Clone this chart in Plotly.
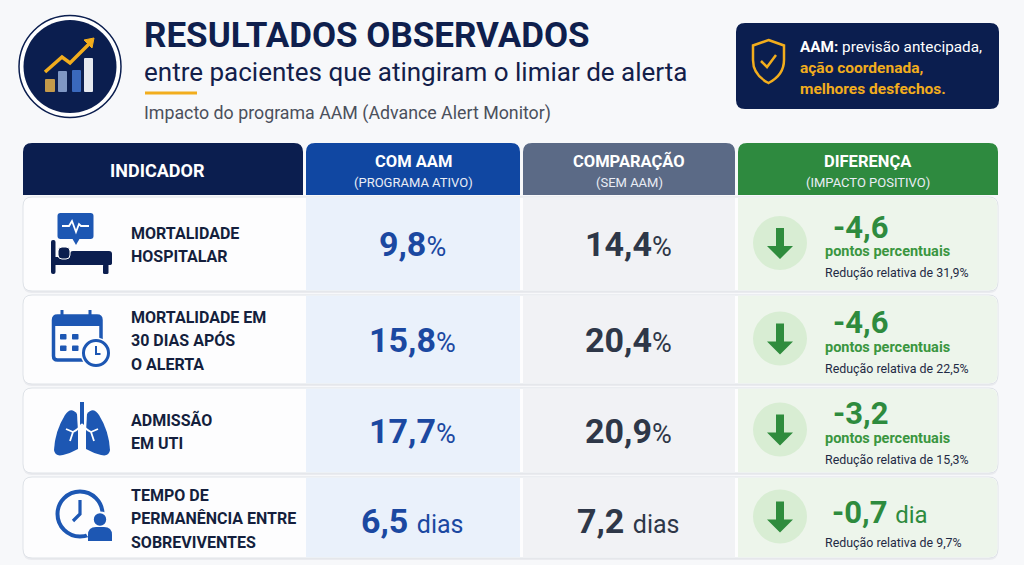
import plotly.graph_objects as go

# ---------------- data ----------------
indicadores = [
    ["MORTALIDADE", "HOSPITALAR"],
    ["MORTALIDADE EM", "30 DIAS APÓS", "O ALERTA"],
    ["ADMISSÃO", "EM UTI"],
    ["TEMPO DE", "PERMANÊNCIA ENTRE", "SOBREVIVENTES"],
]
com_aam = [9.8, 15.8, 17.7, 6.5]
sem_aam = [14.4, 20.4, 20.9, 7.2]
unidades = ["%", "%", "%", "dias"]
diferenca = [-4.6, -4.6, -3.2, -0.7]
dif_unidade = ["pontos percentuais", "pontos percentuais", "pontos percentuais", "dia"]
reducao_relativa = [31.9, 22.5, 15.3, 9.7]

cabecalhos = [("INDICADOR", ""), ("COM AAM", "(PROGRAMA ATIVO)"),
              ("COMPARAÇÃO", "(SEM AAM)"), ("DIFERENÇA", "(IMPACTO POSITIVO)")]
titulo = "RESULTADOS OBSERVADOS"
subtitulo = "entre pacientes que atingiram o limiar de alerta"
fonte_txt = "Impacto do programa AAM (Advance Alert Monitor)"

# ---------------- style ----------------
FONT = "Roboto"
NAVY = "#0b1e4f"
BLUE_H = "#1047a2"
SLATE = "#5b6a86"
GREEN_H = "#2e8a3f"
VAL_BLUE = "#1b48a1"
VAL_DARK = "#2e3748"
GREEN_T = "#2e8b3e"
ICON = "#1d57b3"
TXT = "#141f3d"
GOLD = "#f2ad1d"
BG = "#f7f8fa"


def fmt(v):
    return f"{v:.1f}".replace(".", ",")


def rr(x0, y0, x1, y1, r, tl=True, tr=True, br=True, bl=True):
    p = f"M {x0 + (r if tl else 0)} {y0} L {x1 - (r if tr else 0)} {y0} "
    if tr:
        p += f"Q {x1} {y0} {x1} {y0 + r} "
    p += f"L {x1} {y1 - (r if br else 0)} "
    if br:
        p += f"Q {x1} {y1} {x1 - r} {y1} "
    p += f"L {x0 + (r if bl else 0)} {y1} "
    if bl:
        p += f"Q {x0} {y1} {x0} {y1 - r} "
    p += f"L {x0} {y0 + (r if tl else 0)} "
    if tl:
        p += f"Q {x0} {y0} {x0 + r} {y0} "
    return p + "Z"


shapes = []
ann = []


def path(p, fill=None, line=None, lw=0):
    shapes.append(dict(type="path", path=p, xref="x", yref="y",
                       fillcolor=fill if fill else "rgba(0,0,0,0)",
                       line=dict(color=line if line else "rgba(0,0,0,0)", width=lw)))


def circ(cx, cy, r, fill=None, line=None, lw=0):
    shapes.append(dict(type="circle", xref="x", yref="y", x0=cx - r, x1=cx + r, y0=cy - r, y1=cy + r,
                       fillcolor=fill if fill else "rgba(0,0,0,0)",
                       line=dict(color=line if line else "rgba(0,0,0,0)", width=lw)))


def text(x, y, t, size, color, xa="left", weight="normal"):
    ann.append(dict(x=x, y=y, xref="x", yref="y", text=t, showarrow=False, xanchor=xa, yanchor="middle",
                    font=dict(family=FONT, size=size, color=color, weight=weight)))


# ---------------- title icon ----------------
circ(70, 66.5, 51, fill="white", line=NAVY, lw=1.5)
circ(70, 66.5, 46.5, fill=NAVY)
path(rr(45, 79, 55, 92, 1), fill="#c49a4a")
path(rr(58, 71, 67, 92, 1), fill="#7f97c4")
path(rr(72, 70, 81, 92, 1), fill="#3a69bd")
path(rr(84, 58, 93, 92, 1), fill="#e6e9ef")
path("M 45 72 L 62 57 L 70 63 L 89 44", line=GOLD, lw=3.5)
path("M 84 40 L 94 38 L 92 48 Z", fill=GOLD, line=GOLD, lw=1)

# ---------------- titles ----------------
text(142, 35, titulo, 35, "#0f1f4d", weight="bold")
text(142, 72, subtitulo, 26, "#13204a")
path("M 145 93 L 197 93", line=GOLD, lw=3)
text(142, 113, fonte_txt, 17.8, "#4b505c")

# ---------------- callout ----------------
path(rr(736, 23, 999, 109, 9), fill=NAVY)
path("M 768.5 40 L 784 45.5 L 784 60 Q 784 75 768.5 83 Q 753 75 753 60 L 753 45.5 Z", line=GOLD, lw=2.5)
path("M 761 61 L 767 67 L 776 55", line=GOLD, lw=2.5)
text(798, 47, "<b>AAM:</b> previsão antecipada,", 15.3, "white")
text(798, 68, "ação coordenada,", 15.5, GOLD, weight="bold")
text(798, 89, "melhores desfechos.", 15.5, GOLD, weight="bold")

# ---------------- header ----------------
cols = [(23, 303), (306, 520), (523, 735), (738, 998)]
hcolors = [NAVY, BLUE_H, SLATE, GREEN_H]
for (x0, x1), c, (h1, h2) in zip(cols, hcolors, cabecalhos):
    path(rr(x0, 143, x1, 195, 9, bl=False, br=False), fill=c)
    cx = (x0 + x1) / 2
    if h2:
        text(cx, 161, h1, 16.5, "white", xa="center", weight="bold")
        text(cx, 182, h2, 13, "#e9edf5", xa="center")
    else:
        text(cx - 6, 170, h1, 18, "white", xa="center", weight="bold")

# ---------------- rows ----------------
row_top = [197, 295, 388, 477]
row_bot = [291, 384, 473, 558]

for i in range(4):
    t, b = row_top[i], row_bot[i]
    c = (t + b) / 2
    path(rr(23, t + 2, 998, b + 2, 9), fill="rgba(30,40,60,0.06)")
    path(rr(23, t, 998, b, 9), fill="#fdfdfe", line="#dfe3e8", lw=1)
    shapes.append(dict(type="rect", xref="x", yref="y", x0=306, x1=520, y0=t + 0.8, y1=b - 0.8,
                       fillcolor="#eaf1fb", line=dict(width=0)))
    shapes.append(dict(type="rect", xref="x", yref="y", x0=523, x1=735, y0=t + 0.8, y1=b - 0.8,
                       fillcolor="#f1f2f5", line=dict(width=0)))
    path(rr(738, t + 0.8, 997.3, b - 0.8, 8, tl=False, bl=False), fill="#edf5eb")

    # indicator label
    n = len(indicadores[i])
    for k, ln in enumerate(indicadores[i]):
        text(129, c + 1 + (k - (n - 1) / 2) * 23.5, ln, 16, TXT, weight="bold")

    # values
    u = unidades[i]
    if u == "%":
        v1 = f"<b>{fmt(com_aam[i])}</b><span style='font-size:27px'>%</span>"
        v2 = f"<b>{fmt(sem_aam[i])}</b><span style='font-size:27px'>%</span>"
    else:
        v1 = f"<b>{fmt(com_aam[i])}</b> <span style='font-size:25px'>{u}</span>"
        v2 = f"<b>{fmt(sem_aam[i])}</b> <span style='font-size:25px'>{u}</span>"
    yv = c + (3 if u != "%" else 0)
    text(412, yv, v1, 34, VAL_BLUE, xa="center")
    text(628, yv, v2, 34, VAL_DARK, xa="center")

    # difference
    cy = c - 1
    circ(780, cy, 27, fill="#d8edd3")
    path(f"M 776 {cy-15} L 784 {cy-15} L 784 {cy+3} L 793 {cy+3} L 780 {cy+16} L 767 {cy+3} L 776 {cy+3} Z",
         fill="#2f8c3d")
    if dif_unidade[i] != "dia":
        text(831, c - 17, f"<b>{fmt(diferenca[i])}</b>", 31, GREEN_T)
        text(823, c + 7.5, dif_unidade[i], 14.5, "#3a9640", weight="bold")
        text(823, c + 28.5, f"Redução relativa de {fmt(reducao_relativa[i])}%", 12.4, "#1f2a44")
    else:
        text(830, c - 5, f"<b>{fmt(diferenca[i])}</b> <span style='font-size:24px'>{dif_unidade[i]}</span>",
             31, GREEN_T)
        text(823, c + 24.5, f"Redução relativa de {fmt(reducao_relativa[i])}%", 12.4, "#1f2a44")

# ---------------- row icons ----------------
# 1: bed + monitor
path(rr(57.5, 213, 93.5, 239, 3), fill=ICON)
path("M 72 238 L 76 245 L 80 238 Z", fill=ICON)
path("M 62 226 L 69 226 L 72 221 L 76 232 L 79 224 L 81 226 L 89 226", line="white", lw=1.8)
path(rr(51, 240, 55.5, 274, 2), fill=NAVY)
path(rr(51, 257, 112, 265, 2), fill=NAVY)
path(rr(70, 251, 112, 265, 3), fill=NAVY)
path(rr(58, 247, 70, 259, 4), fill=NAVY, line="white", lw=1)
path(rr(103, 264, 108.5, 274, 1.5), fill=NAVY)

# 2: calendar + clock
path(rr(53.5, 316, 101, 360, 4), line=ICON, lw=3.5)
path(rr(53.5, 316, 101, 326, 4, bl=False, br=False), fill=ICON)
path("M 62 310 L 62 319", line=ICON, lw=3)
path("M 90 310 L 90 319", line=ICON, lw=3)
for yy in (334, 345.5):
    for xx in (60, 72):
        path(rr(xx, yy, xx + 6.5, yy + 5.5, 0.8), fill=ICON)
circ(96, 353, 15.5, fill="#fdfdfe")
circ(96, 353, 12.5, fill="white", line=ICON, lw=3)
path("M 96 346 L 96 354 L 100.5 354", line=ICON, lw=2)

# 3: lungs
path("M 82 402 L 82 426", line=ICON, lw=4)
lung_l = "M 77 414 Q 71 406 65 415 Q 55 431 54 450 Q 55 457 63 455 Q 71 453 78 449 L 78 432 Z"
lung_r = "M 87 414 Q 93 406 99 415 Q 109 431 110 450 Q 109 457 101 455 Q 93 453 86 449 L 86 432 Z"
path(lung_l, fill=ICON)
path(lung_r, fill=ICON)
path("M 82 424 Q 79 429 73 432 M 73 432 L 66 429 M 73 432 L 70 441", line="white", lw=1.8)
path("M 82 424 Q 85 429 91 432 M 91 432 L 98 429 M 91 432 L 94 441", line="white", lw=1.8)

# 4: clock + person
circ(80, 514, 22.5, line=ICON, lw=4)
circ(100, 527, 15.5, fill="#fdfdfe")
path("M 80 500 L 80 514 L 73 521", line=ICON, lw=3.2)
circ(100, 519.5, 6.2, fill=ICON)
path("M 88 541 L 88 535 Q 88 527 96 527 L 104 527 Q 112 527 112 535 L 112 541 Z", fill=ICON)

# ---------------- figure ----------------
fig = go.Figure()
fig.add_trace(go.Scatter(x=[0, 1024], y=[0, 565], mode="markers", marker=dict(opacity=0), hoverinfo="skip"))
fig.update_layout(
    width=1024, height=565, margin=dict(l=0, r=0, t=0, b=0),
    paper_bgcolor=BG, plot_bgcolor=BG, showlegend=False,
    xaxis=dict(range=[0, 1024], visible=False, fixedrange=True),
    yaxis=dict(range=[565, 0], visible=False, fixedrange=True),
    shapes=shapes, annotations=ann,
)
fig.write_html("out.html", config={"displayModeBar": False},
               post_script="document.body.style.margin='0';document.body.style.overflow='hidden';")
